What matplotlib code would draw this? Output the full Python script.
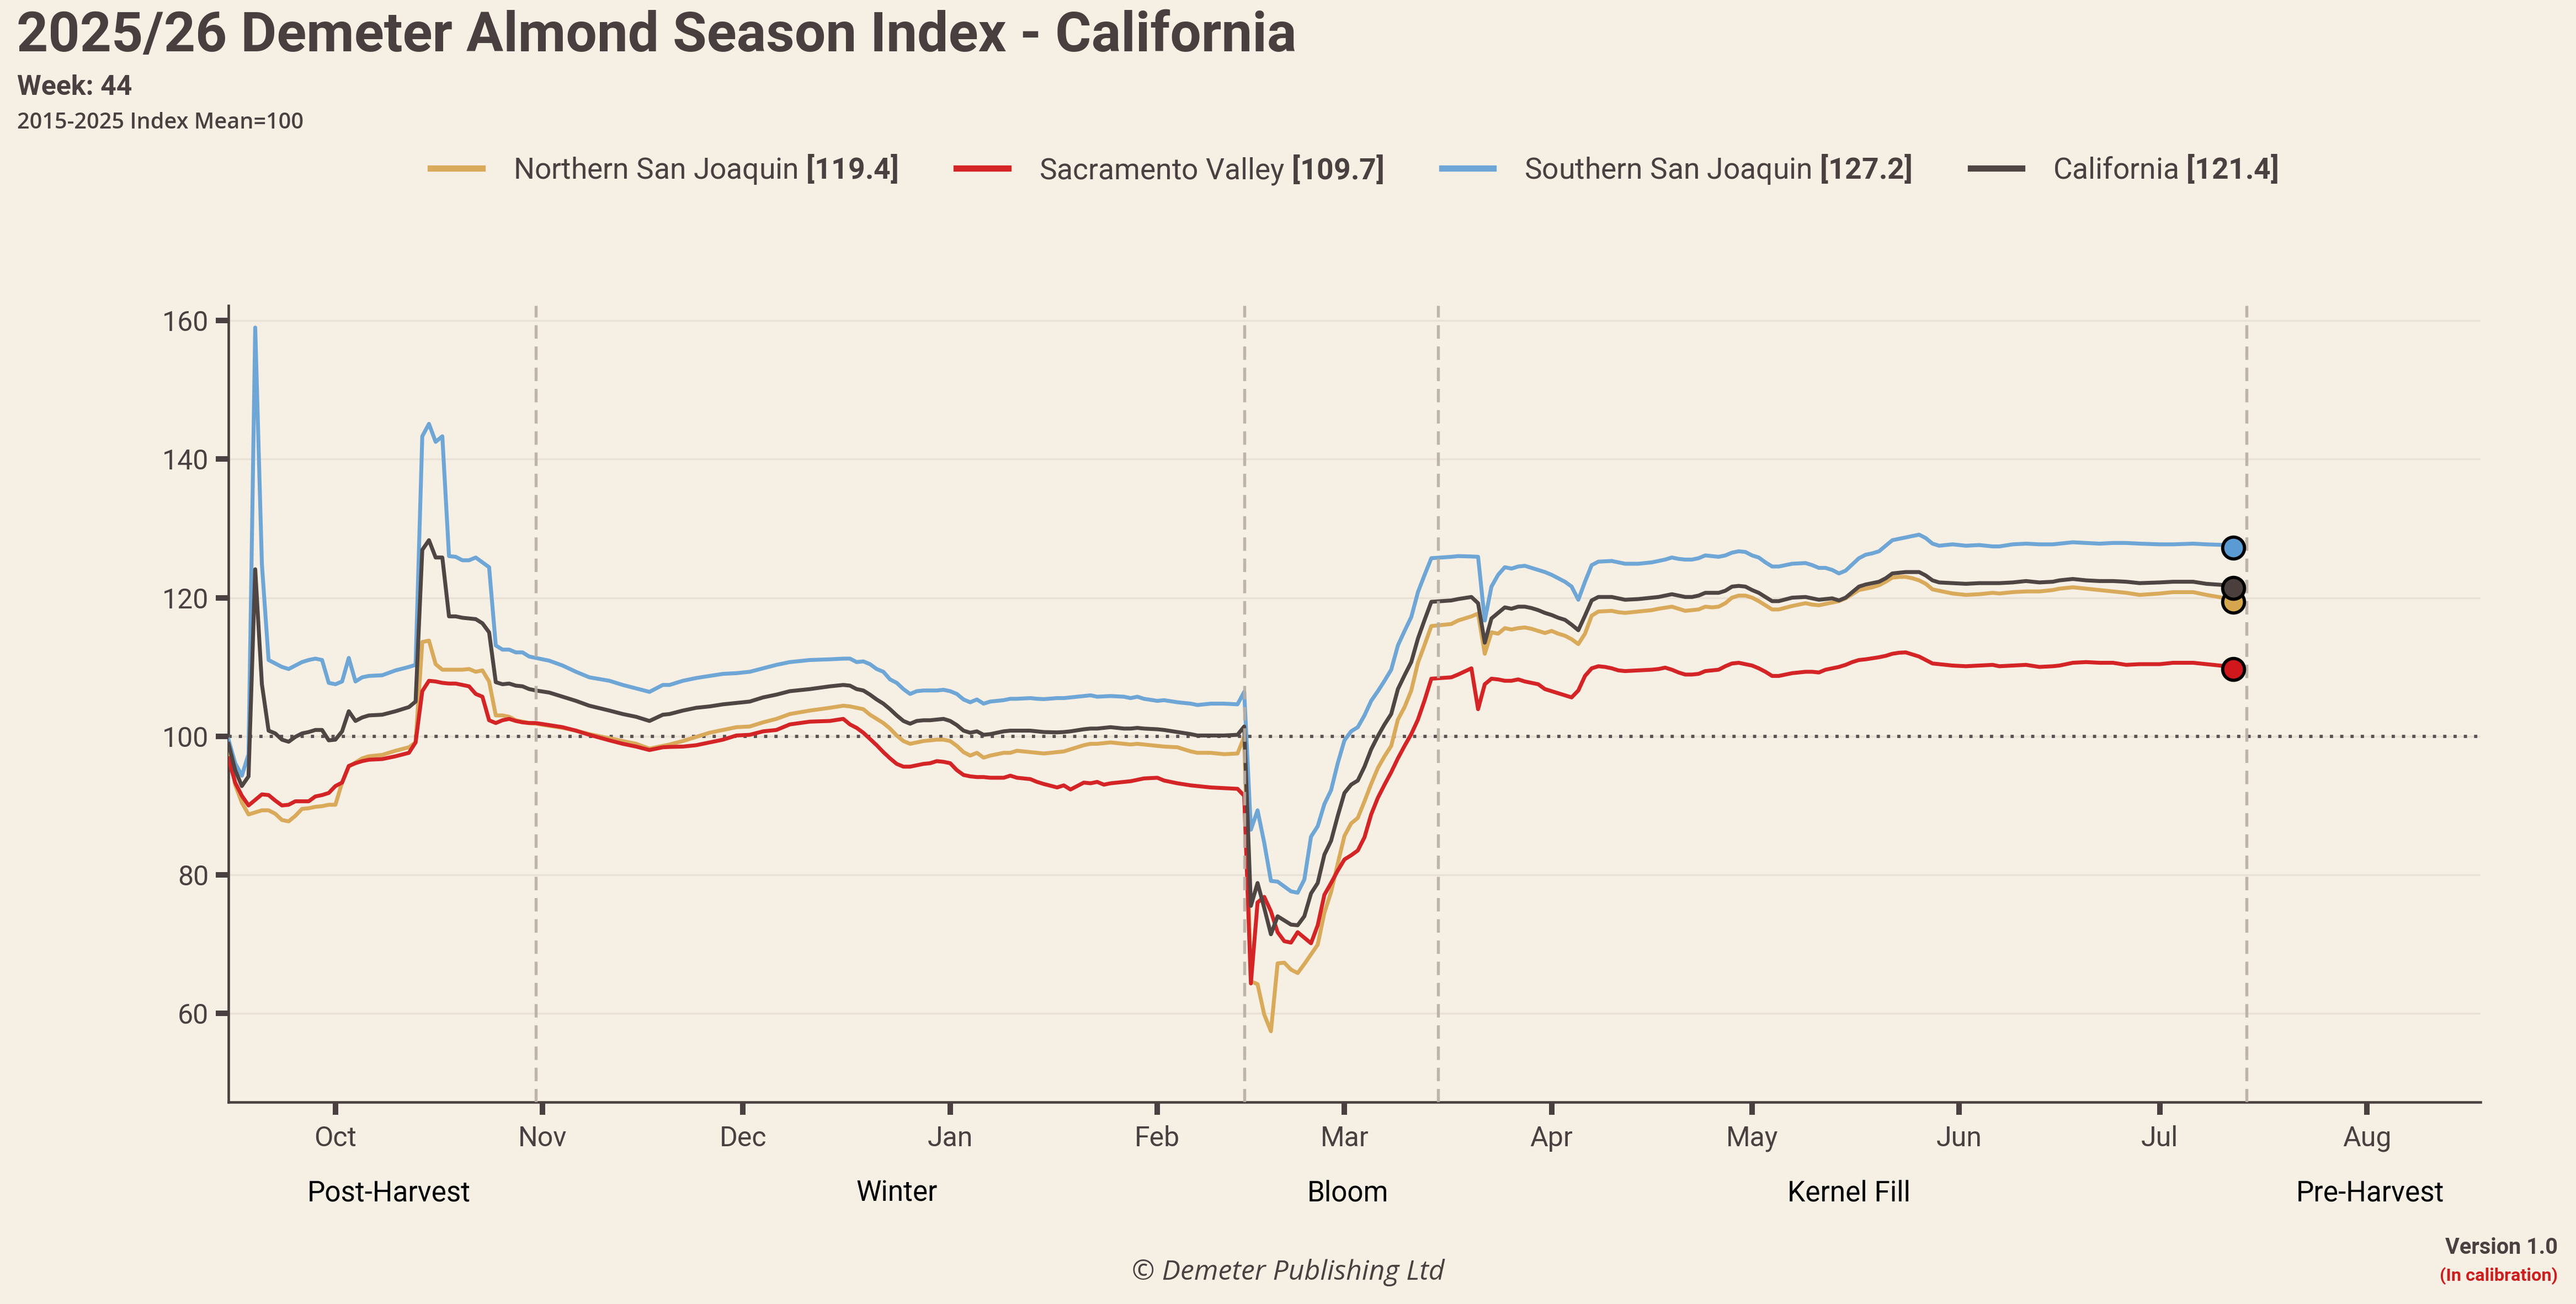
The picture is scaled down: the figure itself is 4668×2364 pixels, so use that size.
import matplotlib
matplotlib.use("Agg")
import matplotlib.pyplot as plt
import matplotlib.dates as mdates
import matplotlib.transforms as mtransforms
from matplotlib.lines import Line2D
from datetime import datetime, timedelta

plt.rcParams['font.family'] = ['Roboto', 'DejaVu Sans']
plt.rcParams['mathtext.fontset'] = 'custom'
plt.rcParams['mathtext.rm'] = 'Roboto'
plt.rcParams['mathtext.bf'] = 'Roboto:bold'

# days counted from 1 Oct 2025
day = [
    -16, -15, -14, -13, -12, -11, -10, -9, -8, -7, -6, -5, -4, -3, -2, -1, 0, 1, 2, 3, 4, 5,
    7, 9, 11, 12, 13, 14, 15, 16, 17, 18, 19, 20, 21, 22, 23, 24, 25, 26, 27, 28, 29, 30,
    32, 34, 36, 38, 41, 43, 45, 47, 49, 50, 52, 54, 56, 58, 60, 62, 64, 66, 68, 71, 74,
    76, 77, 78, 79, 80, 81, 82, 83, 84, 85, 86, 87, 88, 89, 90, 91, 92, 93, 94, 95, 96, 97, 98,
    100, 101, 102, 104, 105, 106, 108, 109, 110, 112, 113, 114, 115, 116, 118, 119, 120, 121,
    123, 124, 126, 128, 129, 131,
    133, 135, 136, 137, 138, 139, 140, 141, 142, 143, 144, 145, 146, 147, 148, 149, 150,
    151, 152, 153, 154, 155, 156, 157, 158, 159, 160, 161, 162, 163, 164,
    167, 168, 170, 171, 172, 173, 174, 175, 176, 177, 178, 179, 180, 181, 182, 183, 184,
    185, 186, 187, 188, 189, 190, 191, 192, 193,
    195, 197, 198, 199, 200, 201, 202, 203, 204, 205, 206, 207, 208, 209, 210, 211, 212,
    213, 214, 215, 216,
    218, 220, 221, 222, 223, 224, 225, 226, 227, 228, 229, 230, 231, 232, 233, 234, 235,
    236, 237, 238, 239, 240,
    242, 244, 246, 248, 249, 251, 253, 255, 257, 258, 260, 262, 264, 266, 268, 270, 273,
    275, 278, 280, 283, 284,
]

northern = [
    98.9, 93.0, 90.4, 88.7, 89.0, 89.3, 89.3, 88.8, 87.9, 87.7, 88.5, 89.5, 89.6, 89.8, 89.9, 90.1, 90.1, 93.3, 95.6, 96.2, 96.8, 97.1,
    97.3, 97.9, 98.4, 99.1, 113.6, 113.8, 110.4, 109.6, 109.6, 109.6, 109.6, 109.7, 109.3, 109.5, 107.9, 103.0, 103.0, 102.8, 102.3, 102.1, 101.9, 101.8,
    101.5, 101.2, 100.8, 100.3, 99.7, 99.3, 98.9, 98.2, 98.6, 98.8, 99.3, 99.9, 100.5, 100.9, 101.3, 101.4, 102.0, 102.5, 103.2, 103.7, 104.1,
    104.4, 104.3, 104.1, 103.9, 103.1, 102.5, 101.9, 101.1, 100.1, 99.3, 98.9, 99.1, 99.3, 99.4, 99.5, 99.5, 99.3, 98.6, 97.7, 97.2, 97.6, 96.9, 97.2,
    97.6, 97.6, 97.9, 97.7, 97.6, 97.5, 97.7, 97.8, 98.1, 98.7, 98.9, 98.9, 99.0, 99.1, 98.9, 98.8, 98.9, 98.8,
    98.6, 98.5, 98.4, 97.8, 97.6, 97.6,
    97.4, 97.5, 99.9, 64.6, 64.2, 59.8, 57.4, 67.2, 67.3, 66.3, 65.8, 67.1, 68.5, 69.9, 74.5, 77.5, 81.6,
    85.6, 87.4, 88.2, 90.6, 93.1, 95.4, 97.1, 98.6, 102.4, 104.2, 106.6, 110.6, 113.2, 115.9,
    116.2, 116.7, 117.3, 117.7, 111.9, 115.0, 114.8, 115.6, 115.4, 115.6, 115.7, 115.5, 115.2, 114.9, 115.2, 114.8, 114.5,
    114.0, 113.3, 114.8, 117.4, 118.0, 118.05, 118.1, 117.9, 117.8,
    118.0, 118.2, 118.4, 118.55, 118.7, 118.4, 118.1, 118.2, 118.3, 118.7, 118.6, 118.7, 119.2, 120.0, 120.3, 120.3, 120.0,
    119.5, 118.9, 118.3, 118.3,
    118.8, 119.2, 119.0, 118.9, 119.1, 119.3, 119.5, 119.9, 120.5, 121.1, 121.3, 121.5, 121.8, 122.3, 122.9, 123.0, 123.0,
    122.8, 122.5, 122.0, 121.2, 121.0,
    120.6, 120.4, 120.5, 120.7, 120.6, 120.8, 120.9, 120.9, 121.1, 121.3, 121.5, 121.3, 121.1, 120.9, 120.7, 120.4, 120.6,
    120.8, 120.8, 120.4, 119.9, 119.4,
]

sacramento = [
    96.8, 93.3, 91.4, 90.0, 90.8, 91.6, 91.5, 90.7, 90.0, 90.1, 90.6, 90.6, 90.6, 91.3, 91.5, 91.8, 92.8, 93.3, 95.7, 96.1, 96.4, 96.6,
    96.7, 97.1, 97.6, 99.1, 106.5, 108.0, 107.9, 107.7, 107.6, 107.6, 107.4, 107.2, 106.1, 105.7, 102.3, 101.9, 102.3, 102.5, 102.2, 102.0, 101.9, 101.9,
    101.6, 101.3, 100.8, 100.2, 99.4, 98.9, 98.5, 98.0, 98.4, 98.45, 98.5, 98.7, 99.1, 99.5, 100.1, 100.2, 100.7, 100.9, 101.7, 102.1, 102.2,
    102.5, 101.7, 101.2, 100.5, 99.6, 98.7, 97.7, 96.8, 96.0, 95.6, 95.6, 95.8, 96.0, 96.1, 96.4, 96.3, 96.1, 95.1, 94.4, 94.2, 94.1, 94.1, 94.0,
    94.0, 94.3, 94.0, 93.8, 93.4, 93.1, 92.6, 92.9, 92.3, 93.3, 93.2, 93.4, 93.0, 93.2, 93.4, 93.5, 93.7, 93.9,
    94.0, 93.6, 93.2, 92.9, 92.8, 92.6,
    92.5, 92.4, 91.4, 64.3, 76.0, 76.8, 74.7, 71.7, 70.4, 70.2, 71.7, 70.9, 70.1, 72.7, 77.1, 78.8, 80.6,
    82.2, 82.8, 83.5, 85.4, 88.7, 91.1, 93.0, 94.8, 96.8, 98.6, 100.3, 102.4, 105.2, 108.3,
    108.5, 108.9, 109.8, 103.9, 107.5, 108.3, 108.2, 108.0, 108.0, 108.2, 107.9, 107.7, 107.5, 106.8, 106.5, 106.2, 105.9,
    105.6, 106.6, 108.7, 109.8, 110.1, 110.0, 109.8, 109.5, 109.4,
    109.5, 109.6, 109.7, 109.9, 109.6, 109.2, 108.9, 108.9, 109.0, 109.4, 109.5, 109.6, 110.1, 110.5, 110.6, 110.4, 110.2,
    109.8, 109.3, 108.7, 108.7,
    109.1, 109.3, 109.3, 109.2, 109.6, 109.8, 110.0, 110.3, 110.7, 111.0, 111.1, 111.25, 111.4, 111.6, 111.9, 112.05, 112.1,
    111.8, 111.5, 111.0, 110.5, 110.4,
    110.2, 110.1, 110.2, 110.3, 110.1, 110.2, 110.3, 110.0, 110.1, 110.2, 110.6, 110.7, 110.6, 110.6, 110.3, 110.4, 110.4,
    110.6, 110.6, 110.4, 110.1, 109.7,
]

southern = [
    99.5, 96.1, 94.3, 97.4, 159.0, 124.8, 111.0, 110.5, 110.0, 109.7, 110.2, 110.7, 111.0, 111.2, 111.0, 107.7, 107.5, 107.9, 111.3, 107.9, 108.5, 108.7,
    108.8, 109.5, 110.0, 110.3, 143.3, 145.1, 142.5, 143.3, 126.0, 125.9, 125.4, 125.4, 125.8, 125.1, 124.4, 113.1, 112.5, 112.5, 112.1, 112.1, 111.5, 111.3,
    110.9, 110.2, 109.3, 108.5, 108.0, 107.4, 106.9, 106.4, 107.4, 107.4, 108.0, 108.4, 108.7, 109.0, 109.1, 109.3, 109.8, 110.3, 110.7, 111.0, 111.1,
    111.2, 111.2, 110.7, 110.8, 110.4, 109.7, 109.3, 108.2, 107.7, 106.8, 106.1, 106.5, 106.6, 106.6, 106.6, 106.7, 106.5, 106.1, 105.3, 104.9, 105.3, 104.7, 105.0,
    105.2, 105.4, 105.4, 105.5, 105.4, 105.35, 105.5, 105.5, 105.6, 105.8, 105.9, 105.7, 105.75, 105.8, 105.7, 105.5, 105.7, 105.4,
    105.1, 105.2, 104.9, 104.7, 104.5, 104.7,
    104.7, 104.6, 106.4, 86.5, 89.3, 84.6, 79.1, 79.0, 78.3, 77.6, 77.4, 79.3, 85.5, 87.0, 90.2, 92.2, 96.1,
    99.4, 100.7, 101.3, 103.0, 105.1, 106.5, 108.0, 109.6, 113.1, 115.2, 117.2, 120.8, 123.3, 125.7,
    125.9, 126.0, 125.95, 125.9, 116.7, 121.6, 123.3, 124.4, 124.2, 124.5, 124.6, 124.3, 124.0, 123.7, 123.3, 122.8, 122.3,
    121.6, 119.7, 122.3, 124.7, 125.2, 125.25, 125.3, 125.1, 124.9,
    124.9, 125.1, 125.3, 125.5, 125.8, 125.6, 125.5, 125.5, 125.7, 126.1, 126.0, 125.9, 126.1, 126.5, 126.7, 126.6, 126.1,
    125.8, 125.1, 124.5, 124.5,
    124.9, 125.0, 124.7, 124.3, 124.3, 124.0, 123.5, 123.9, 124.8, 125.7, 126.2, 126.4, 126.7, 127.5, 128.3, 128.5, 128.7,
    128.9, 129.1, 128.6, 127.8, 127.5,
    127.7, 127.5, 127.6, 127.4, 127.4, 127.7, 127.8, 127.7, 127.7, 127.8, 128.0, 127.9, 127.8, 127.9, 127.9, 127.8, 127.7,
    127.7, 127.8, 127.7, 127.6, 127.2,
]

california = [
    98.9, 95.1, 92.8, 94.2, 124.1, 107.5, 100.8, 100.4, 99.5, 99.2, 99.9, 100.4, 100.6, 100.9, 100.9, 99.4, 99.5, 100.7, 103.6, 102.2, 102.7, 103.0,
    103.1, 103.6, 104.2, 105.0, 126.9, 128.3, 125.8, 125.8, 117.3, 117.3, 117.1, 117.0, 116.9, 116.3, 115.0, 107.8, 107.5, 107.6, 107.3, 107.2, 106.8, 106.6,
    106.3, 105.7, 105.1, 104.4, 103.7, 103.2, 102.8, 102.2, 103.1, 103.2, 103.7, 104.1, 104.3, 104.6, 104.8, 105.0, 105.6, 106.0, 106.5, 106.8, 107.2,
    107.4, 107.3, 106.8, 106.6, 106.0, 105.3, 104.7, 103.9, 103.0, 102.2, 101.8, 102.2, 102.3, 102.3, 102.4, 102.5, 102.2, 101.6, 100.8, 100.5, 100.7, 100.2, 100.3,
    100.7, 100.8, 100.8, 100.8, 100.7, 100.6, 100.55, 100.6, 100.7, 101.0, 101.1, 101.1, 101.2, 101.3, 101.1, 101.1, 101.2, 101.1,
    101.0, 100.9, 100.6, 100.3, 100.1, 100.1,
    100.1, 100.2, 101.4, 75.5, 78.8, 75.2, 71.4, 74.0, 73.4, 72.8, 72.7, 74.0, 77.3, 78.8, 82.9, 84.9, 88.5,
    91.8, 93.0, 93.6, 95.6, 98.1, 100.0, 101.7, 103.2, 106.8, 108.8, 110.7, 114.1, 116.8, 119.4,
    119.6, 119.8, 120.1, 119.2, 113.5, 117.0, 117.8, 118.6, 118.4, 118.7, 118.7, 118.5, 118.2, 117.8, 117.5, 117.1, 116.8,
    116.1, 115.3, 117.4, 119.6, 120.1, 120.1, 120.1, 119.9, 119.7,
    119.8, 120.0, 120.1, 120.3, 120.5, 120.3, 120.1, 120.1, 120.3, 120.7, 120.7, 120.7, 121.0, 121.6, 121.7, 121.6, 121.1,
    120.7, 120.1, 119.5, 119.5,
    120.0, 120.1, 119.9, 119.7, 119.8, 119.9, 119.6, 120.0, 120.8, 121.6, 121.9, 122.1, 122.3, 122.8, 123.5, 123.6, 123.7,
    123.7, 123.7, 123.2, 122.5, 122.2,
    122.1, 122.0, 122.1, 122.1, 122.1, 122.2, 122.4, 122.2, 122.3, 122.5, 122.7, 122.5, 122.4, 122.4, 122.3, 122.1, 122.2,
    122.3, 122.3, 122.0, 121.8, 121.4,
]

regions = ["Northern San Joaquin", "Sacramento Valley", "Southern San Joaquin", "California"]
latest = ["119.4", "109.7", "127.2", "121.4"]
phases = ["Post-Harvest", "Winter", "Bloom", "Kernel Fill", "Pre-Harvest"]
phase_edges = ["2025-09-15", "2025-10-31", "2026-02-14", "2026-03-15", "2026-07-14", "2026-08-18"]

for s in (northern, sacramento, southern, california):
    assert len(s) == len(day)

BG = '#F6EFE4'
INK = '#4A4040'
line_cols = ['#D9AA5A', '#D42426', '#6EA6D6', '#4F4644']
dot_cols = ['#D6A64E', '#D0171C', '#5A9BD4', '#4A3F3D']

t0 = datetime(2025, 10, 1)
dates = [t0 + timedelta(days=d) for d in day]
edges = [datetime.strptime(e, "%Y-%m-%d") for e in phase_edges]

fig = plt.figure(figsize=(15.56, 7.88), dpi=300, facecolor=BG)
ax = fig.add_axes([0.0887, 0.155, 0.8742, 0.6108])
ax.set_facecolor(BG)

series = [northern, sacramento, southern, california]
handles = []
labels = []
for i, (vals, lc, dc) in enumerate(zip(series, line_cols, dot_cols)):
    ax.plot(dates, vals, color=lc, lw=1.7, zorder=4 + i, solid_joinstyle='round')
    ax.plot(dates[-1], vals[-1], 'o', ms=9.5, mfc=dc, mec='black', mew=1.4, zorder=10 + i)
    handles.append(Line2D([], [], color=lc, lw=2.7))
    labels.append(regions[i] + r" $\mathbf{[" + latest[i] + "]}$")

ax.axhline(100, color='#5A5252', lw=1.4, dashes=(1.0, 2.2), zorder=3)
for e in edges[1:-1]:
    ax.axvline(e, color='#B8AEA2', lw=1.3, dashes=(4.5, 2.6), zorder=9, alpha=0.9)

ax.set_xlim(edges[0], edges[-1])
ax.set_ylim(47.2, 162.2)
ax.set_yticks([60, 80, 100, 120, 140, 160])
ax.yaxis.grid(True, color='#EAE1D6', lw=0.8)
ax.set_axisbelow(True)

ax.xaxis.set_major_locator(mdates.MonthLocator(bymonthday=1))
ax.xaxis.set_major_formatter(mdates.DateFormatter('%b'))

for side in ['top', 'right']:
    ax.spines[side].set_visible(False)
for side in ['left', 'bottom']:
    ax.spines[side].set_color(INK)
    ax.spines[side].set_linewidth(1.1)

ax.tick_params(axis='both', length=5.6, width=2.4, color=INK, labelcolor=INK, labelsize=12)
ax.tick_params(axis='y', pad=3)
ax.tick_params(axis='x', pad=4.5)

# season phase labels under the month labels, centred in each phase
trans = mtransforms.blended_transform_factory(ax.transData, ax.transAxes)
for k, name in enumerate(phases):
    mid = edges[k] + (edges[k + 1] - edges[k]) / 2 + timedelta(days=1)
    ax.text(mid, -0.115, name, transform=trans, ha='center', va='center',
            fontsize=12.3, color='black')

fig.legend(handles, labels, loc='center', bbox_to_anchor=(0.5258, 0.870), ncol=4,
           frameon=False, fontsize=12.8, labelcolor=INK, handlelength=1.75,
           handletextpad=1.05, columnspacing=2.0)

fig.text(0.0064, 0.9725, "2025/26 Demeter Almond Season Index - California",
         fontsize=24, fontweight='bold', color='#4A3F3F', va='center', ha='left')
fig.text(0.0066, 0.933, "Week: 44", fontsize=12, fontweight='bold', color=INK, va='center')
fig.text(0.0066, 0.9056, "2015-2025 Index Mean=100", fontsize=9.5, fontweight='semibold',
         family=['Open Sans', 'DejaVu Sans'], color=INK, va='center')
fig.text(0.5, 0.024, "© Demeter Publishing Ltd", fontsize=12, style='italic',
         family=['Open Sans', 'DejaVu Sans'], color=INK, ha='center', va='center')
fig.text(0.993, 0.043, "Version 1.0", fontsize=9.5, fontweight='bold', color=INK,
         ha='right', va='center')
fig.text(0.993, 0.0216, "(In calibration)", fontsize=7.8, fontweight='bold', color='#CC1F1F',
         ha='right', va='center')

fig.savefig('out.png', dpi=300, facecolor=BG)
